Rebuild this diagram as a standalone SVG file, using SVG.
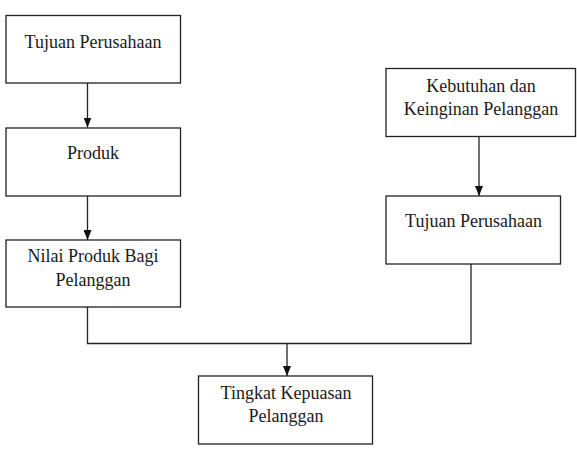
<svg xmlns="http://www.w3.org/2000/svg" width="577" height="456" viewBox="0 0 577 456" font-family="Liberation Serif, Times New Roman, serif" font-size="18">
<style>
.box{fill:#fff;stroke:#222;stroke-width:1.3}
text{fill:#1a1a1a;text-anchor:middle}
.c{fill:none;stroke:#222;stroke-width:1.3}
</style>
<defs>
<marker id="ah" markerWidth="10" markerHeight="8" refX="10" refY="4" orient="auto" markerUnits="userSpaceOnUse" viewBox="0 0 10 8">
<path d="M0,0 L10,4 L0,8 Z" fill="#111"/>
</marker>
</defs>
<rect width="577" height="456" fill="#fff"/>
<g id="connectors">
<line class="c" x1="87.5" y1="83" x2="87.5" y2="127.5" marker-end="url(#ah)"/>
<line class="c" x1="87.5" y1="196" x2="87.5" y2="240" marker-end="url(#ah)"/>
<line class="c" x1="479" y1="137" x2="479" y2="196" marker-end="url(#ah)"/>
<polyline class="c" points="87.5,307 87.5,343.5 471,343.5 471,264"/>
<line class="c" x1="287" y1="343.5" x2="287" y2="376" marker-end="url(#ah)"/>
</g>
<g id="n1"><rect class="box" x="6" y="15.5" width="174.5" height="67.5"/><text x="93" y="48">Tujuan Perusahaan</text></g>
<g id="n2"><rect class="box" x="6" y="128" width="174.5" height="68"/><text x="93" y="159">Produk</text></g>
<g id="n3"><rect class="box" x="6" y="240" width="174.5" height="67"/><text x="93" y="262">Nilai Produk Bagi</text><text x="93" y="285.5">Pelanggan</text></g>
<g id="n4"><rect class="box" x="386" y="68.5" width="189.5" height="68"/><text x="481" y="91.5">Kebutuhan dan</text><text x="481" y="115">Keinginan Pelanggan</text></g>
<g id="n5"><rect class="box" x="386" y="196" width="174.5" height="68"/><text x="473.5" y="226.5">Tujuan Perusahaan</text></g>
<g id="n6"><rect class="box" x="198.5" y="376" width="174" height="68"/><text x="286" y="399">Tingkat Kepuasan</text><text x="286" y="421.5">Pelanggan</text></g>
</svg>
